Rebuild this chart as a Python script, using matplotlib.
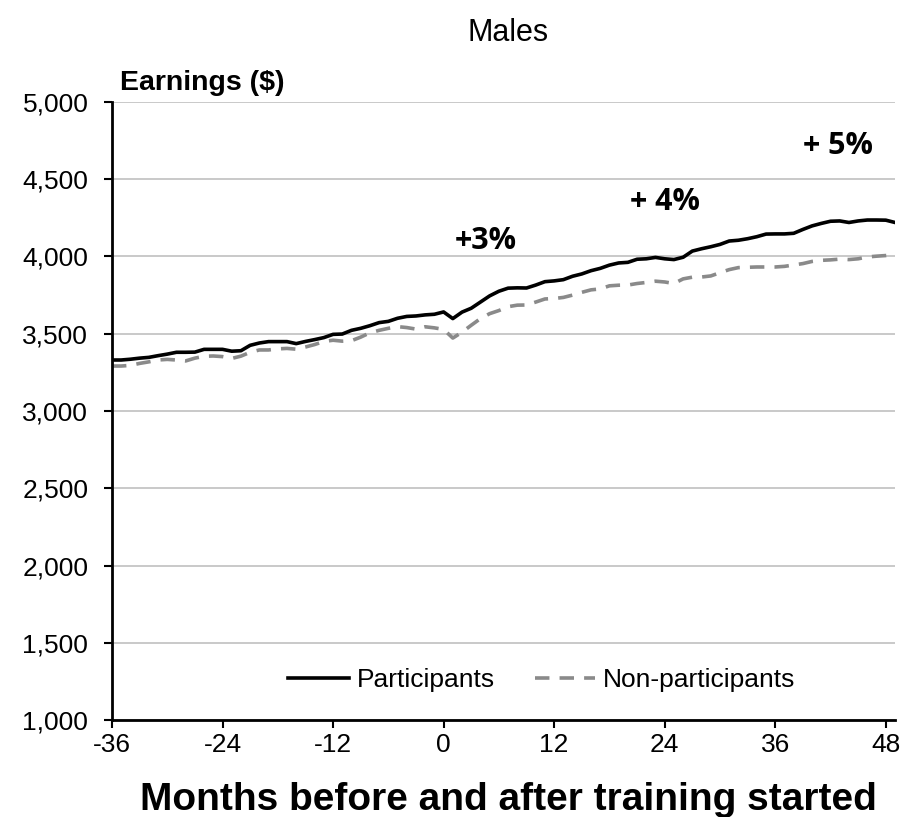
import matplotlib.pyplot as plt

plt.rcParams['font.family'] = ['Liberation Sans', 'DejaVu Sans']
plt.rcParams['axes.unicode_minus'] = False

months = list(range(-36, 50))

participants = [
    3330, 3330, 3335, 3342, 3347, 3358, 3368, 3380, 3380, 3381,
    3399, 3399, 3399, 3387, 3390, 3425, 3440, 3449, 3449, 3449,
    3436, 3450, 3462, 3475, 3496, 3498, 3522, 3535, 3552, 3572,
    3580, 3600, 3612, 3615, 3622, 3626, 3641, 3598, 3640, 3665,
    3705, 3745, 3775, 3795, 3797, 3796, 3815, 3837, 3842, 3850,
    3872, 3887, 3908, 3923, 3944, 3958, 3962, 3982, 3985, 3994,
    3985, 3980, 3995, 4035, 4050, 4063, 4078, 4100, 4105, 4115,
    4128, 4145, 4146, 4146, 4150, 4175, 4198, 4214, 4228, 4230,
    4220, 4230, 4236, 4236, 4235, 4220,
]

non_participants = [
    3291, 3291, 3295, 3308, 3318, 3330, 3334, 3330, 3324, 3342,
    3354, 3356, 3352, 3340, 3355, 3380, 3395, 3395, 3402, 3405,
    3400, 3414, 3430, 3450, 3458, 3452, 3455, 3478, 3506, 3522,
    3535, 3546, 3540, 3530, 3545, 3538, 3528, 3472, 3510, 3555,
    3598, 3630, 3650, 3675, 3685, 3686, 3705, 3725, 3728, 3735,
    3750, 3768, 3784, 3790, 3810, 3814, 3815, 3825, 3832, 3840,
    3835, 3825, 3855, 3866, 3867, 3874, 3895, 3915, 3928, 3930,
    3932, 3932, 3932, 3936, 3945, 3954, 3968, 3975, 3978, 3983,
    3980, 3985, 3997, 4002, 4006, 4012,
]

x_ticks = [-36, -24, -12, 0, 12, 24, 36, 48]
y_ticks = [1000, 1500, 2000, 2500, 3000, 3500, 4000, 4500, 5000]

gap_labels = ['+3%', '+ 4%', '+ 5%']
gap_pos = [(4.6, 4100), (24.0, 4355), (42.8, 4712)]

fig = plt.figure(figsize=(9.08, 8.17), dpi=100)
ax = fig.add_axes([0.1233, 0.1187, 0.8624, 0.7565])

ax.plot(months, participants, color='black', lw=2.6, label='Participants',
        solid_joinstyle='round')
ax.plot(months, non_participants, color='#8a8a8a', lw=2.6, dashes=(4.0, 2.8),
        label='Non-participants')

ax.set_xlim(-36, 49)
ax.set_ylim(1000, 5000)
ax.set_xticks(x_ticks)
ax.set_yticks(y_ticks)
ax.set_yticklabels([f'{v:,}' for v in y_ticks])
ax.tick_params(axis='both', labelsize=19, direction='out', width=1.5, length=6,
               colors='black')
ax.tick_params(axis='x', pad=3)
ax.tick_params(axis='y', pad=11)
ax.grid(axis='y', color='#c0c0c0', lw=1.2)
ax.set_axisbelow(True)

for s in ['top', 'right']:
    ax.spines[s].set_visible(False)
for s in ['left', 'bottom']:
    ax.spines[s].set_linewidth(2)

for lab, (gx, gy) in zip(gap_labels, gap_pos):
    ax.text(gx, gy, lab, ha='center', va='center', fontsize=22,
            fontweight='bold', family=['Open Sans', 'DejaVu Sans'])

ax.legend(loc='lower center', bbox_to_anchor=(0.549, 0.007), ncol=2,
          frameon=False, fontsize=19, handlelength=2.3, columnspacing=1.5,
          handletextpad=0.3)

fig.text(0.56, 0.96, 'Males', ha='center', va='center', fontsize=22)
fig.text(0.132, 0.898, 'Earnings ($)', ha='left', va='center', fontsize=20.5,
         fontweight='bold')
fig.text(0.56, 0.021, 'Months before and after training started', ha='center',
         va='center', fontsize=28, fontweight='bold')

fig.savefig('out.png', dpi=100)
